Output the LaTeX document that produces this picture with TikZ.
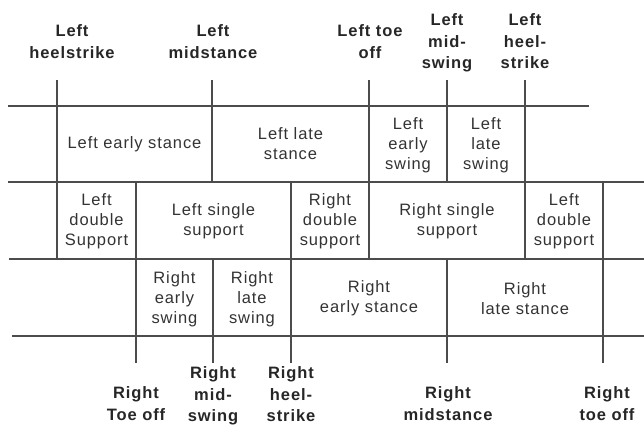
\documentclass[tikz,border=0pt]{standalone}
\usepackage{fontspec}
\setmainfont{Liberation Sans}[LetterSpace=5.5]
\begin{document}
\begin{tikzpicture}[x=1pt,y=-1pt,
  gridline/.style={draw=black!70, line width=1.2pt},
  cell/.style={align=center, font=\fontsize{16.5}{20}\selectfont, text=black!80, inner sep=0pt},
  event/.style={align=center, font=\fontsize{16.5}{21.5}\selectfont\bfseries, text=black!85, inner sep=0pt}]
\useasboundingbox (0,0) rectangle (644,432);
% horizontal lines
\draw[gridline] (8,106) -- (589,106);
\draw[gridline] (8,182) -- (644,182);
\draw[gridline] (9,259) -- (644,259);
\draw[gridline] (12,336) -- (644,336);
% vertical lines
\draw[gridline] (57,80) -- (57,259);
\draw[gridline] (212,80) -- (212,182);
\draw[gridline] (369,80) -- (369,259);
\draw[gridline] (447,80) -- (447,182);
\draw[gridline] (525,80) -- (525,259);
\draw[gridline] (603,182) -- (603,363);
\draw[gridline] (136,182) -- (136,363);
\draw[gridline] (213,259) -- (213,363);
\draw[gridline] (291,182) -- (291,363);
\draw[gridline] (447,259) -- (447,363);
% top events
\node[event] (lhs) at (72,41.5) {Left\\heelstrike};
\node[event] (lms) at (213,41.5) {Left\\midstance};
\node[event] (lto) at (370,41.5) {Left toe\\off};
\node[event] (lmsw) at (447,43) {Left\\mid-\\swing};
\node[event] (lhs2) at (525,41.5) {Left\\heel-\\strike};
% bottom events
\node[event] (rto) at (136,403.5) {Right\\Toe off};
\node[event] (rmsw) at (213,396) {Right\\mid-\\swing};
\node[event] (rhs) at (291,394.5) {Right\\heel-\\strike};
\node[event] (rms) at (448,403.5) {Right\\midstance};
\node[event] (rto2) at (607,403.5) {Right\\toe off};
% row 1
\node[cell] (les) at (134.5,144.5) {Left early stance};
\node[cell] (lls) at (290.5,144) {Left late\\stance};
\node[cell] (lesw) at (408,145.5) {Left\\early\\swing};
\node[cell] (llsw) at (486,145.5) {Left\\late\\swing};
% row 2
\node[cell] (lds) at (96.5,221) {Left\\double\\Support};
\node[cell] (lss) at (213.5,221) {Left single\\support};
\node[cell] (rds) at (330,221) {Right\\double\\support};
\node[cell] (rss) at (447,221) {Right single\\support};
\node[cell] (lds2) at (564,221) {Left\\double\\support};
% row 3
\node[cell] (resw) at (174.5,299) {Right\\early\\swing};
\node[cell] (rlsw) at (252,299) {Right\\late\\swing};
\node[cell] (res) at (369,298.5) {Right\\early stance};
\node[cell] (rls) at (525,298.5) {Right\\late stance};
\end{tikzpicture}
\end{document}
